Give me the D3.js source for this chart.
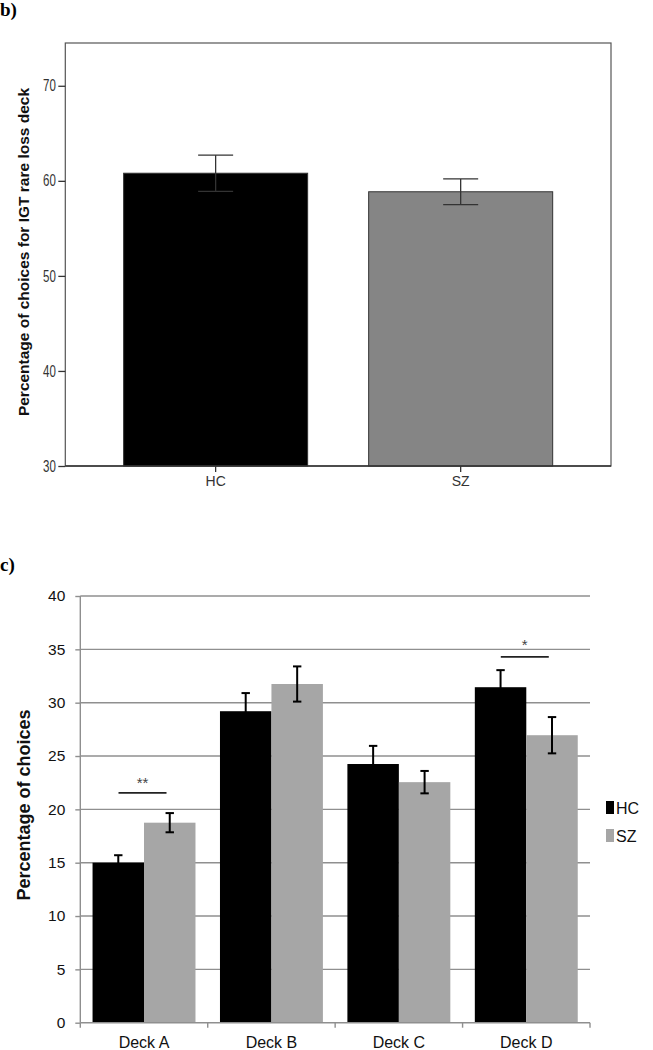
<!DOCTYPE html>
<html><head><meta charset="utf-8">
<script src="https://cdn.jsdelivr.net/npm/d3@7"></script>
<style>body{margin:0;background:#fff}svg{display:block}</style>
</head><body>
<svg id="c" width="653" height="1050"></svg>
<script>
// Panel b data
const groupsB = ["HC", "SZ"];
const meanB = [60.8, 58.85];
const errB = [1.9, 1.35];
const ticksB = [30, 40, 50, 60, 70];

// Panel c data
const decks = ["Deck A", "Deck B", "Deck C", "Deck D"];
const series = ["HC", "SZ"];
const hcVals = [15.0, 29.2, 24.25, 31.45];
const szVals = [18.75, 31.75, 22.55, 26.95];
const hcErr = [0.7, 1.7, 1.7, 1.6];
const szErr = [0.9, 1.65, 1.05, 1.7];
const ticksC = [0, 5, 10, 15, 20, 25, 30, 35, 40];
const sig = [{deck: "Deck A", label: "**", y: 21.55, star: 22.7}, {deck: "Deck D", label: "*", y: 34.3, star: 35.6}];

const svg = d3.select("#c");
const serif = "'Liberation Serif', 'DejaVu Serif', serif";
const sans = "'Liberation Sans', Arial, sans-serif";

// panel labels
svg.append("text").attr("x", 0).attr("y", 16).text("b)")
  .attr("font-family", serif).attr("font-weight", "bold").attr("font-size", 19);
svg.append("text").attr("x", 0).attr("y", 571).text("c)")
  .attr("font-family", serif).attr("font-weight", "bold").attr("font-size", 19);

// ---------- Panel b ----------
const bL = 65.3, bR = 611, bT = 43, bB = 466;
const yB = d3.scaleLinear().domain([30, 74.5]).range([bB, bT]);
const xB = d3.scaleBand().domain(groupsB).range([bL, bR]).paddingInner(0.249).paddingOuter(0.238);
const gB = svg.append("g");
gB.append("rect").attr("x", bL).attr("y", bT).attr("width", bR - bL).attr("height", bB - bT)
  .attr("fill", "none").attr("stroke", "#555").attr("stroke-width", 1.2);
const fillsB = ["#000000", "#858585"];
gB.selectAll("rect.bar").data(groupsB).enter().append("rect").attr("class", "bar")
  .attr("x", d => xB(d)).attr("width", xB.bandwidth())
  .attr("y", (d, i) => yB(meanB[i])).attr("height", (d, i) => bB - yB(meanB[i]))
  .attr("fill", (d, i) => fillsB[i]).attr("stroke", "#333").attr("stroke-width", 1);
// error bars
groupsB.forEach((g, i) => {
  const cx = xB(g) + xB.bandwidth() / 2;
  const y1 = yB(meanB[i] + errB[i]), y0 = yB(meanB[i] - errB[i]);
  const col = "#333";
  gB.append("line").attr("x1", cx).attr("x2", cx).attr("y1", y1).attr("y2", y0).attr("stroke", col).attr("stroke-width", 1.3);
  gB.append("line").attr("x1", cx - 17.5).attr("x2", cx + 17.5).attr("y1", y1).attr("y2", y1).attr("stroke", col).attr("stroke-width", 1.3);
  gB.append("line").attr("x1", cx - 17.5).attr("x2", cx + 17.5).attr("y1", y0).attr("y2", y0).attr("stroke", col).attr("stroke-width", 1.3);
});
// axes
const axLB = d3.axisLeft(yB).tickValues(ticksB).tickSize(7).tickPadding(2);
const gAxB = gB.append("g").attr("transform", `translate(${bL},0)`).call(axLB);
gAxB.select(".domain").remove();
gAxB.selectAll("line").attr("stroke", "#333").attr("stroke-width", 1.3);
gAxB.selectAll("text").attr("font-family", sans).attr("font-size", 16).attr("fill", "#333")
  .attr("x", -9.5 / 0.72).attr("transform", "scale(0.72,1)");
const axBB = d3.axisBottom(xB).tickSize(6).tickPadding(4);
const gAxBB = gB.append("g").attr("transform", `translate(0,${bB})`).call(axBB);
gAxBB.select(".domain").attr("stroke", "#333").attr("stroke-width", 1.3).attr("d", `M${bL},0H${bR}`);
gAxBB.selectAll("line").attr("stroke", "#333").attr("stroke-width", 1.3);
gAxBB.selectAll("text").attr("font-family", sans).attr("font-size", 14).attr("fill", "#333");
gB.append("text").attr("transform", `translate(29,252) rotate(-90)`)
  .attr("text-anchor", "middle").attr("font-family", sans)
  .attr("font-weight", "bold").attr("font-size", 15.5).attr("fill", "#111")
  .text("Percentage of choices for IGT rare loss deck");

// ---------- Panel c ----------
const cL = 80.3, cR = 590, cT = 596, cB = 1022.7;
const yC = d3.scaleLinear().domain([0, 40]).range([cB, cT]);
const x0 = d3.scaleBand().domain(decks).range([cL, cR]);
const x1 = d3.scaleBand().domain(series).range([0, x0.bandwidth()]).paddingOuter(0.238);
const gC = svg.append("g");
// gridlines
gC.selectAll("line.grid").data(ticksC.filter(t => t > 0)).enter().append("line").attr("class", "grid")
  .attr("x1", cL).attr("x2", cR).attr("y1", d => yC(d)).attr("y2", d => yC(d))
  .attr("stroke", "#8f8f8f").attr("stroke-width", 1.4);
const axLC = d3.axisLeft(yC).tickValues(ticksC).tickSize(5).tickPadding(10);
const gAxC = gC.append("g").attr("transform", `translate(${cL},0)`).call(axLC);
gAxC.select(".domain").attr("stroke", "#8f8f8f").attr("stroke-width", 1.4).attr("d", `M0,${cB}V${cT}`);
gAxC.selectAll("line").attr("stroke", "#8f8f8f").attr("stroke-width", 1.4);
gAxC.selectAll("text").attr("font-family", sans).attr("font-size", 15.5).attr("fill", "#111");
// bars
const colC = {HC: "#000000", SZ: "#a6a6a6"};
const valsC = {HC: hcVals, SZ: szVals};
const errC = {HC: hcErr, SZ: szErr};
series.forEach(s => {
  gC.selectAll(null).data(decks).enter().append("rect")
    .attr("x", d => x0(d) + x1(s)).attr("width", x1.bandwidth())
    .attr("y", (d, i) => yC(valsC[s][i])).attr("height", (d, i) => cB - yC(valsC[s][i]))
    .attr("fill", colC[s]);
});
series.forEach(s => {
  decks.forEach((d, i) => {
    const cx = x0(d) + x1(s) + x1.bandwidth() / 2;
    const y1 = yC(valsC[s][i] + errC[s][i]), y0 = yC(valsC[s][i] - errC[s][i]);
    const g = gC.append("g").attr("stroke", "#000").attr("stroke-width", 2);
    g.append("line").attr("x1", cx).attr("x2", cx).attr("y1", y1).attr("y2", y0);
    g.append("line").attr("x1", cx - 4.2).attr("x2", cx + 4.2).attr("y1", y1).attr("y2", y1);
    g.append("line").attr("x1", cx - 4.2).attr("x2", cx + 4.2).attr("y1", y0).attr("y2", y0);
  });
});
// x axis
const axBC = d3.axisBottom(x0).tickSize(0).tickPadding(14);
const gAxBC = gC.append("g").attr("transform", `translate(0,${cB})`).call(axBC);
gAxBC.select(".domain").attr("stroke", "#8f8f8f").attr("stroke-width", 1.4).attr("d", `M${cL},0H${cR}`);
gAxBC.selectAll("text").attr("font-family", sans).attr("font-size", 16).attr("fill", "#111");
gC.selectAll("line.sep").data(decks.concat(["end"])).enter().append("line").attr("class", "sep")
  .attr("x1", d => d === "end" ? cR : x0(d)).attr("x2", d => d === "end" ? cR : x0(d))
  .attr("y1", cB).attr("y2", cB + 5).attr("stroke", "#8f8f8f").attr("stroke-width", 1.4);
// significance
sig.forEach(o => {
  const cx = x0(o.deck) + x0.bandwidth() / 2 - 1.5;
  gC.append("line").attr("x1", cx - 24).attr("x2", cx + 24).attr("y1", yC(o.y)).attr("y2", yC(o.y))
    .attr("stroke", "#222").attr("stroke-width", 1.8);
  gC.append("text").attr("x", cx).attr("y", yC(o.star) + 7).attr("text-anchor", "middle")
    .attr("font-family", sans).attr("font-size", 15).attr("fill", "#444").text(o.label);
});
// legend
series.forEach((s, i) => {
  const ly = 808 + i * 28;
  gC.append("rect").attr("x", 606).attr("y", ly - 7).attr("width", 8).attr("height", 13).attr("fill", colC[s]);
  gC.append("text").attr("x", 616).attr("y", ly + 6).attr("font-family", sans).attr("font-size", 16)
    .attr("fill", "#111").text(s);
});
// y label
gC.append("text").attr("transform", `translate(30,805) rotate(-90)`).attr("text-anchor", "middle")
  .attr("font-family", sans).attr("font-weight", "bold").attr("font-size", 18).attr("fill", "#111")
  .text("Percentage of choices");
</script>
</body></html>
